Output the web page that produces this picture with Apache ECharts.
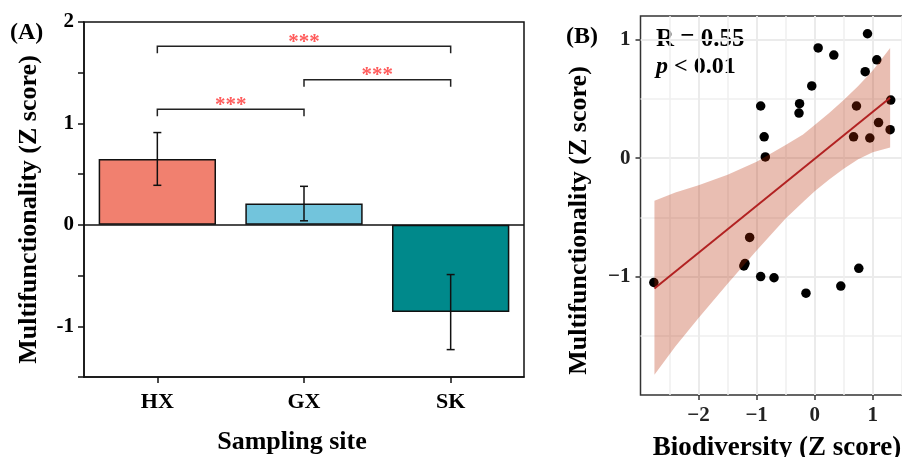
<!DOCTYPE html>
<html>
<head>
<meta charset="utf-8">
<script src="https://cdn.jsdelivr.net/npm/echarts@6/dist/echarts.min.js"></script>
<style>html,body{margin:0;padding:0;background:#fff;overflow:hidden;}#c{width:902px;height:457px;}</style>
</head>
<body>
<div id="c"></div>
<script>
// ---------- Panel A data ----------
const categories = ['HX', 'GX', 'SK'];
const barValues = [0.65, 0.21, -0.86];
const errValues = [0.26, 0.17, 0.37];
const barColors = ['#F1806F', '#72C4DC', '#00898B'];
const bracketFrom = [0, 1, 0];
const bracketTo = [2, 2, 1];
const bracketY = [1.76, 1.43, 1.14];
const bracketLabels = ['***', '***', '***'];
const yTicksA = [-1, 0, 1, 2];

// ---------- Panel B data ----------
const bioX = [-0.93, -0.87, -0.85, -0.26, -0.27, -0.05, 0.06, 0.33, 0.91, 1.07, 0.87, 0.72, 1.31, 0.67, 0.95, 1.10, 1.30,
              -1.12, -1.20, -1.22, -0.93, -0.70, -0.15, 0.45, 0.76, -2.77];
const multiY = [0.44, 0.18, 0.01, 0.46, 0.38, 0.61, 0.93, 0.87, 1.05, 0.83, 0.73, 0.44, 0.49, 0.18, 0.17, 0.30, 0.24,
                -0.67, -0.89, -0.91, -1.00, -1.01, -1.14, -1.08, -0.93, -1.05];
const fitX = [-2.76, 1.30];
const fitY = [-1.10, 0.51];
const ribbonX = [-2.76, -2.4, -2.0, -1.5, -1.0, -0.5, -0.2, 0.0, 0.25, 0.5, 0.75, 1.0, 1.30];
const ribbonHigh = [-0.36, -0.29, -0.23, -0.14, -0.03, 0.11, 0.20, 0.28, 0.38, 0.49, 0.61, 0.74, 0.93];
const ribbonLow = [-1.83, -1.59, -1.35, -1.06, -0.78, -0.51, -0.37, -0.28, -0.18, -0.09, -0.01, 0.05, 0.09];
const xTicksB = [-2, -1, 0, 1];
const yTicksB = [-1, 0, 1];
const statLines = ['R = 0.55', 'p < 0.01'];

const SERIF = '"Liberation Serif", "Times New Roman", serif';
const fmtMinus = v => (v < 0 ? '\u2212' + Math.abs(v) : String(v));

const chart = echarts.init(document.getElementById('c'), null, {renderer: 'canvas'});

const option = {
  backgroundColor: '#fff',
  animation: false,
  textStyle: {fontFamily: SERIF},
  grid: [
    {left: 84, top: 22, width: 440, height: 355, containLabel: false, outerBoundsMode: 'none', show: true,
     borderColor: '#111', borderWidth: 1.5, backgroundColor: 'transparent'},
    {left: 640.5, top: 16, width: 263, height: 379, containLabel: false, outerBoundsMode: 'none', show: true,
     borderColor: '#333', borderWidth: 1.5, backgroundColor: 'transparent'}
  ],
  xAxis: [
    {gridIndex: 0, type: 'category', data: categories, boundaryGap: true,
     axisLine: {show: true, onZero: false, lineStyle: {color: '#111', width: 1.5}},
     axisTick: {show: true, alignWithLabel: true, length: 6, lineStyle: {color: '#111', width: 1.5}},
     axisLabel: {color: '#000', fontFamily: SERIF, fontWeight: 'bold', fontSize: 22, margin: 14},
     splitLine: {show: false},
     name: 'Sampling site', nameLocation: 'middle', nameGap: 52,
     nameTextStyle: {color: '#000', fontFamily: SERIF, fontWeight: 'bold', fontSize: 26, padding: [0, 24, 0, 0]}},
    {gridIndex: 1, type: 'value', min: -3, max: 1.53, interval: 1,
     axisLine: {show: false, onZero: false},
     axisTick: {show: true, length: 5, customValues: xTicksB, lineStyle: {color: '#333', width: 1.5}},
     axisLabel: {customValues: xTicksB, formatter: fmtMinus, color: '#222', fontFamily: SERIF, fontWeight: 'bold', fontSize: 21, margin: 10},
     splitLine: {show: true, lineStyle: {color: '#EBEBEB', width: 2}},
     minorTick: {show: false, splitNumber: 2},
     minorSplitLine: {show: true, lineStyle: {color: '#EFEFEF', width: 1.5}},
     name: 'Biodiversity (Z score)', nameLocation: 'middle', nameGap: 40,
     nameTextStyle: {color: '#000', fontFamily: SERIF, fontWeight: 'bold', fontSize: 27, padding: [0, 0, 0, 10]}}
  ],
  yAxis: [
    {gridIndex: 0, type: 'value', min: -1.5, max: 2, interval: 0.5,
     axisLine: {show: true, onZero: false, lineStyle: {color: '#111', width: 1.5}},
     axisTick: {show: true, length: 6, lineStyle: {color: '#111', width: 1.5}},
     axisLabel: {customValues: yTicksA, color: '#000', fontFamily: SERIF, fontWeight: 'bold', fontSize: 21, margin: 10},
     splitLine: {show: false},
     name: 'Multifunctionality (Z score)', nameLocation: 'middle', nameGap: 42,
     nameTextStyle: {color: '#000', fontFamily: SERIF, fontWeight: 'bold', fontSize: 26, padding: [0, 20, 0, 0]}},
    {gridIndex: 1, type: 'value', min: -2, max: 1.2, interval: 1,
     axisLine: {show: false, onZero: false},
     axisTick: {show: true, length: 5, customValues: yTicksB, lineStyle: {color: '#333', width: 1.5}},
     axisLabel: {customValues: yTicksB, formatter: fmtMinus, color: '#222', fontFamily: SERIF, fontWeight: 'bold', fontSize: 21, margin: 10},
     splitLine: {show: true, lineStyle: {color: '#EBEBEB', width: 2}},
     minorTick: {show: false, splitNumber: 2},
     minorSplitLine: {show: true, lineStyle: {color: '#EFEFEF', width: 1.5}},
     name: 'Multifunctionality (Z score)', nameLocation: 'middle', nameGap: 48,
     nameTextStyle: {color: '#000', fontFamily: SERIF, fontWeight: 'bold', fontSize: 26, padding: [0, 30, 0, 0]}}
  ],
  graphic: [
    {type: 'text', left: 10, top: 21, style: {text: '(A)', fill: '#000', font: 'bold 24px ' + SERIF}},
    {type: 'text', left: 566, top: 25, style: {text: '(B)', fill: '#000', font: 'bold 24px ' + SERIF}},
    {type: 'text', left: 656, top: 27, style: {text: statLines[0], fill: '#000', font: 'bold 25px ' + SERIF}},
    {type: 'text', left: 656, top: 55, style: {
      text: '{i|' + statLines[1].slice(0, 1) + '}{b|' + statLines[1].slice(1) + '}',
      rich: {i: {font: 'italic bold 24px ' + SERIF, fill: '#000'},
             b: {font: 'bold 24px ' + SERIF, fill: '#000'}}}}
  ],
  series: [
    {type: 'bar', xAxisIndex: 0, yAxisIndex: 0, barWidth: '80%', z: 2,
     data: barValues.map((v, i) => ({value: v, itemStyle: {color: barColors[i], borderColor: '#111', borderWidth: 1.5}})),
     markLine: {silent: true, symbol: 'none', label: {show: false},
       lineStyle: {color: '#111', width: 1.5, type: 'solid'}, data: [{yAxis: 0}]}},
    {type: 'custom', xAxisIndex: 0, yAxisIndex: 0, z: 5,
     data: barValues.map((v, i) => [i, v, errValues[i]]),
     renderItem: function (params, api) {
       const x = api.value(0), v = api.value(1), e = api.value(2);
       const t = api.coord([x, v + e]), b = api.coord([x, v - e]);
       const hw = 4;
       const st = {stroke: '#111', lineWidth: 1.5};
       return {type: 'group', children: [
         {type: 'line', shape: {x1: t[0], y1: t[1], x2: b[0], y2: b[1]}, style: st},
         {type: 'line', shape: {x1: t[0] - hw, y1: t[1], x2: t[0] + hw, y2: t[1]}, style: st},
         {type: 'line', shape: {x1: b[0] - hw, y1: b[1], x2: b[0] + hw, y2: b[1]}, style: st}
       ]};
     }},
    {type: 'custom', xAxisIndex: 0, yAxisIndex: 0, z: 5,
     data: bracketY.map((y, i) => [bracketFrom[i], bracketTo[i], y, i]),
     renderItem: function (params, api) {
       const a = api.coord([api.value(0), api.value(2)]);
       const b = api.coord([api.value(1), api.value(2)]);
       const drop = 7;
       return {type: 'group', children: [
         {type: 'polyline', shape: {points: [[a[0], a[1] + drop], [a[0], a[1]], [b[0], b[1]], [b[0], b[1] + drop]]},
          style: {stroke: '#222', lineWidth: 1.5, fill: null}},
         {type: 'text', style: {text: bracketLabels[api.value(3)], x: (a[0] + b[0]) / 2, y: a[1] - 4,
           align: 'center', verticalAlign: 'middle', fill: '#FF5C5C', font: 'bold 21px ' + SERIF}}
       ]};
     }},
    {type: 'scatter', xAxisIndex: 1, yAxisIndex: 1, z: 2, symbolSize: 9.5,
     itemStyle: {color: '#000', opacity: 1},
     data: bioX.map((x, i) => [x, multiY[i]])},
    {type: 'custom', xAxisIndex: 1, yAxisIndex: 1, z: 3,
     data: [[0]],
     renderItem: function (params, api) {
       const pts = [];
       for (let i = 0; i < ribbonX.length; i++) pts.push(api.coord([ribbonX[i], ribbonHigh[i]]));
       for (let i = ribbonX.length - 1; i >= 0; i--) pts.push(api.coord([ribbonX[i], ribbonLow[i]]));
       return {type: 'polygon', shape: {points: pts}, style: {fill: 'rgba(182,40,0,0.3)', stroke: null}};
     }},
    {type: 'line', xAxisIndex: 1, yAxisIndex: 1, z: 4, symbol: 'none',
     lineStyle: {color: '#B22222', width: 2},
     data: fitX.map((x, i) => [x, fitY[i]])}
  ]
};
chart.setOption(option);
</script>
</body>
</html>
